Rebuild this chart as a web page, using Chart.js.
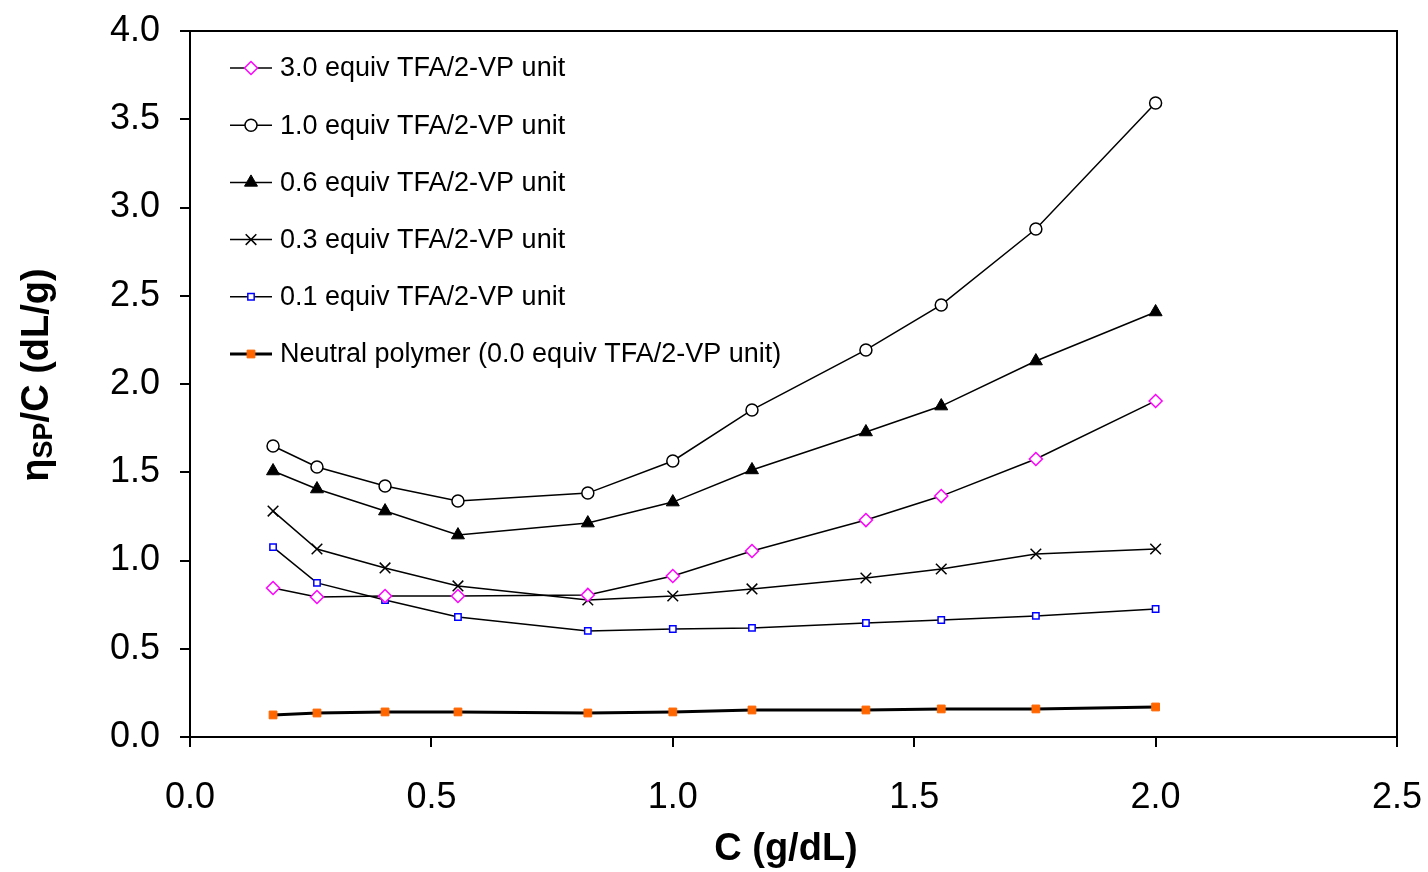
<!DOCTYPE html>
<html>
<head>
<meta charset="utf-8">
<script src="https://cdn.jsdelivr.net/npm/chart.js@4.4.1/dist/chart.umd.min.js"></script>
<style>
  html, body { margin: 0; padding: 0; background: #fff; }
  #wrap { width: 1428px; height: 872px; }
</style>
</head>
<body>
<div id="wrap"><canvas id="c" width="1428" height="872"></canvas></div>
<script>
// concentrations C (g/dL)
const conc = [0.172, 0.263, 0.404, 0.555, 0.824, 1.0, 1.164, 1.40, 1.556, 1.752, 2.0];

// reduced viscosity per series
const equiv30 = [0.844, 0.793, 0.799, 0.799, 0.805, 0.912, 1.054, 1.229, 1.365, 1.575, 1.904];
const equiv10 = [1.649, 1.530, 1.422, 1.337, 1.382, 1.564, 1.853, 2.193, 2.448, 2.878, 3.592];
const equiv06 = [1.507, 1.405, 1.280, 1.144, 1.212, 1.331, 1.513, 1.728, 1.875, 2.130, 2.408];
const equiv03 = [1.280, 1.065, 0.958, 0.856, 0.776, 0.799, 0.839, 0.901, 0.952, 1.037, 1.065];
const equiv01 = [1.076, 0.873, 0.776, 0.680, 0.601, 0.612, 0.618, 0.646, 0.663, 0.686, 0.725];
const neutral = [0.125, 0.136, 0.142, 0.142, 0.136, 0.142, 0.153, 0.153, 0.159, 0.159, 0.170];

const seriesNames = [
  "3.0 equiv TFA/2-VP unit",
  "1.0 equiv TFA/2-VP unit",
  "0.6 equiv TFA/2-VP unit",
  "0.3 equiv TFA/2-VP unit",
  "0.1 equiv TFA/2-VP unit",
  "Neutral polymer (0.0 equiv TFA/2-VP unit)"
];

const xTicks = [0, 0.5, 1.0, 1.5, 2.0, 2.5];

const pts = arr => arr.map((v, i) => ({ x: conc[i], y: v }));

const styles = [
  { pointStyle: 'rectRot', radius: 6.5, bg: '#fff', border: '#ff00ff', bw: 1.5, lw: 1.5 },
  { pointStyle: 'circle', radius: 6, bg: '#fff', border: '#000', bw: 1.5, lw: 1.5 },
  { pointStyle: 'triangle', radius: 7.5, bg: '#000', border: '#000', bw: 1, lw: 1.5 },
  { pointStyle: 'crossRot', radius: 7.5, bg: '#000', border: '#000', bw: 1.5, lw: 1.5 },
  { pointStyle: 'rect', radius: 4.5, bg: '#fff', border: '#0000ff', bw: 1.5, lw: 1.5 },
  { pointStyle: 'rect', radius: 5.5, bg: '#ff6600', border: '#ff6600', bw: 1, lw: 3 }
];
const allData = [equiv30, equiv10, equiv06, equiv03, equiv01, neutral];

const datasets = allData.map((d, i) => ({
  label: seriesNames[i],
  data: pts(d),
  borderColor: '#000',
  borderWidth: styles[i].lw,
  pointStyle: styles[i].pointStyle,
  pointRadius: styles[i].radius,
  pointBackgroundColor: styles[i].bg,
  pointBorderColor: styles[i].border,
  pointBorderWidth: styles[i].bw,
  tension: 0
}));

const FONT = '"Liberation Sans", Arial, sans-serif';

// frame, inner legend and axis titles
const decor = {
  id: 'decor',
  afterDraw(chart) {
    const ctx = chart.ctx;
    const a = chart.chartArea;
    ctx.save();
    ctx.strokeStyle = '#000';
    ctx.lineWidth = 2;
    ctx.beginPath();
    ctx.moveTo(a.left, a.top);
    ctx.lineTo(a.right, a.top);
    ctx.lineTo(a.right, a.bottom);
    ctx.stroke();

    // legend
    ctx.font = '27px ' + FONT;
    ctx.textBaseline = 'middle';
    ctx.textAlign = 'left';
    chart.data.datasets.forEach((ds, i) => {
      const y = a.top + 37 + i * 57.2;
      const x0 = a.left + 40, x1 = a.left + 82;
      ctx.strokeStyle = '#000';
      ctx.lineWidth = ds.borderWidth;
      ctx.beginPath(); ctx.moveTo(x0, y); ctx.lineTo(x1, y); ctx.stroke();
      ctx.fillStyle = ds.pointBackgroundColor;
      ctx.strokeStyle = ds.pointBorderColor;
      ctx.lineWidth = ds.pointBorderWidth;
      Chart.helpers.drawPoint(ctx, {
        pointStyle: ds.pointStyle, radius: ds.pointRadius, rotation: 0,
        borderWidth: ds.pointBorderWidth
      }, (x0 + x1) / 2, y);
      ctx.fillStyle = '#000';
      ctx.fillText(ds.label, a.left + 90, y + 1);
    });

    // x title
    ctx.font = 'bold 38px ' + FONT;
    ctx.textAlign = 'center';
    ctx.textBaseline = 'middle';
    ctx.fillText('C (g/dL)', 786, 850);

    // y title with subscript
    ctx.translate(38, 375);
    ctx.rotate(-Math.PI / 2);
    const big = 'bold 38px ' + FONT;
    const small = 'bold 27px ' + FONT;
    ctx.font = big; const w1 = ctx.measureText('η').width;
    ctx.font = small; const w2 = ctx.measureText('SP').width;
    ctx.font = big; const w3 = ctx.measureText('/C (dL/g)').width;
    let x = -(w1 + w2 + w3) / 2;
    ctx.textAlign = 'left';
    ctx.font = big; ctx.fillText('η', x, 0); x += w1;
    ctx.font = small; ctx.fillText('SP', x, 7); x += w2;
    ctx.font = big; ctx.fillText('/C (dL/g)', x, 0);
    ctx.restore();
  }
};

new Chart(document.getElementById('c').getContext('2d'), {
  type: 'line',
  data: { datasets },
  options: {
    responsive: false,
    animation: false,
    layout: { padding: { top: 31, right: 31, left: 0, bottom: 0 } },
    plugins: { legend: { display: false }, tooltip: { enabled: false } },
    scales: {
      x: {
        type: 'linear', min: 0, max: 2.5,
        afterBuildTicks: s => { s.ticks = xTicks.map(v => ({ value: v })); },
        afterFit: s => { s.height = 135; s.paddingLeft = 0; s.paddingRight = 0; },
        border: { display: true, color: '#000', width: 2 },
        grid: { display: true, drawOnChartArea: false, drawTicks: true, tickLength: 10, color: '#000', lineWidth: 2 },
        ticks: { color: '#000', padding: 29, maxRotation: 0, font: { size: 36, family: FONT },
                 callback: v => v.toFixed(1) }
      },
      y: {
        type: 'linear', min: 0, max: 4,
        afterFit: s => { s.width = 190; s.paddingTop = 0; s.paddingBottom = 0; },
        border: { display: true, color: '#000', width: 2 },
        grid: { display: true, drawOnChartArea: false, drawTicks: true, tickLength: 10, color: '#000', lineWidth: 2 },
        ticks: { color: '#000', stepSize: 0.5, padding: 20, font: { size: 36, family: FONT },
                 callback: v => v.toFixed(1) }
      }
    }
  },
  plugins: [decor]
});
</script>
</body>
</html>
